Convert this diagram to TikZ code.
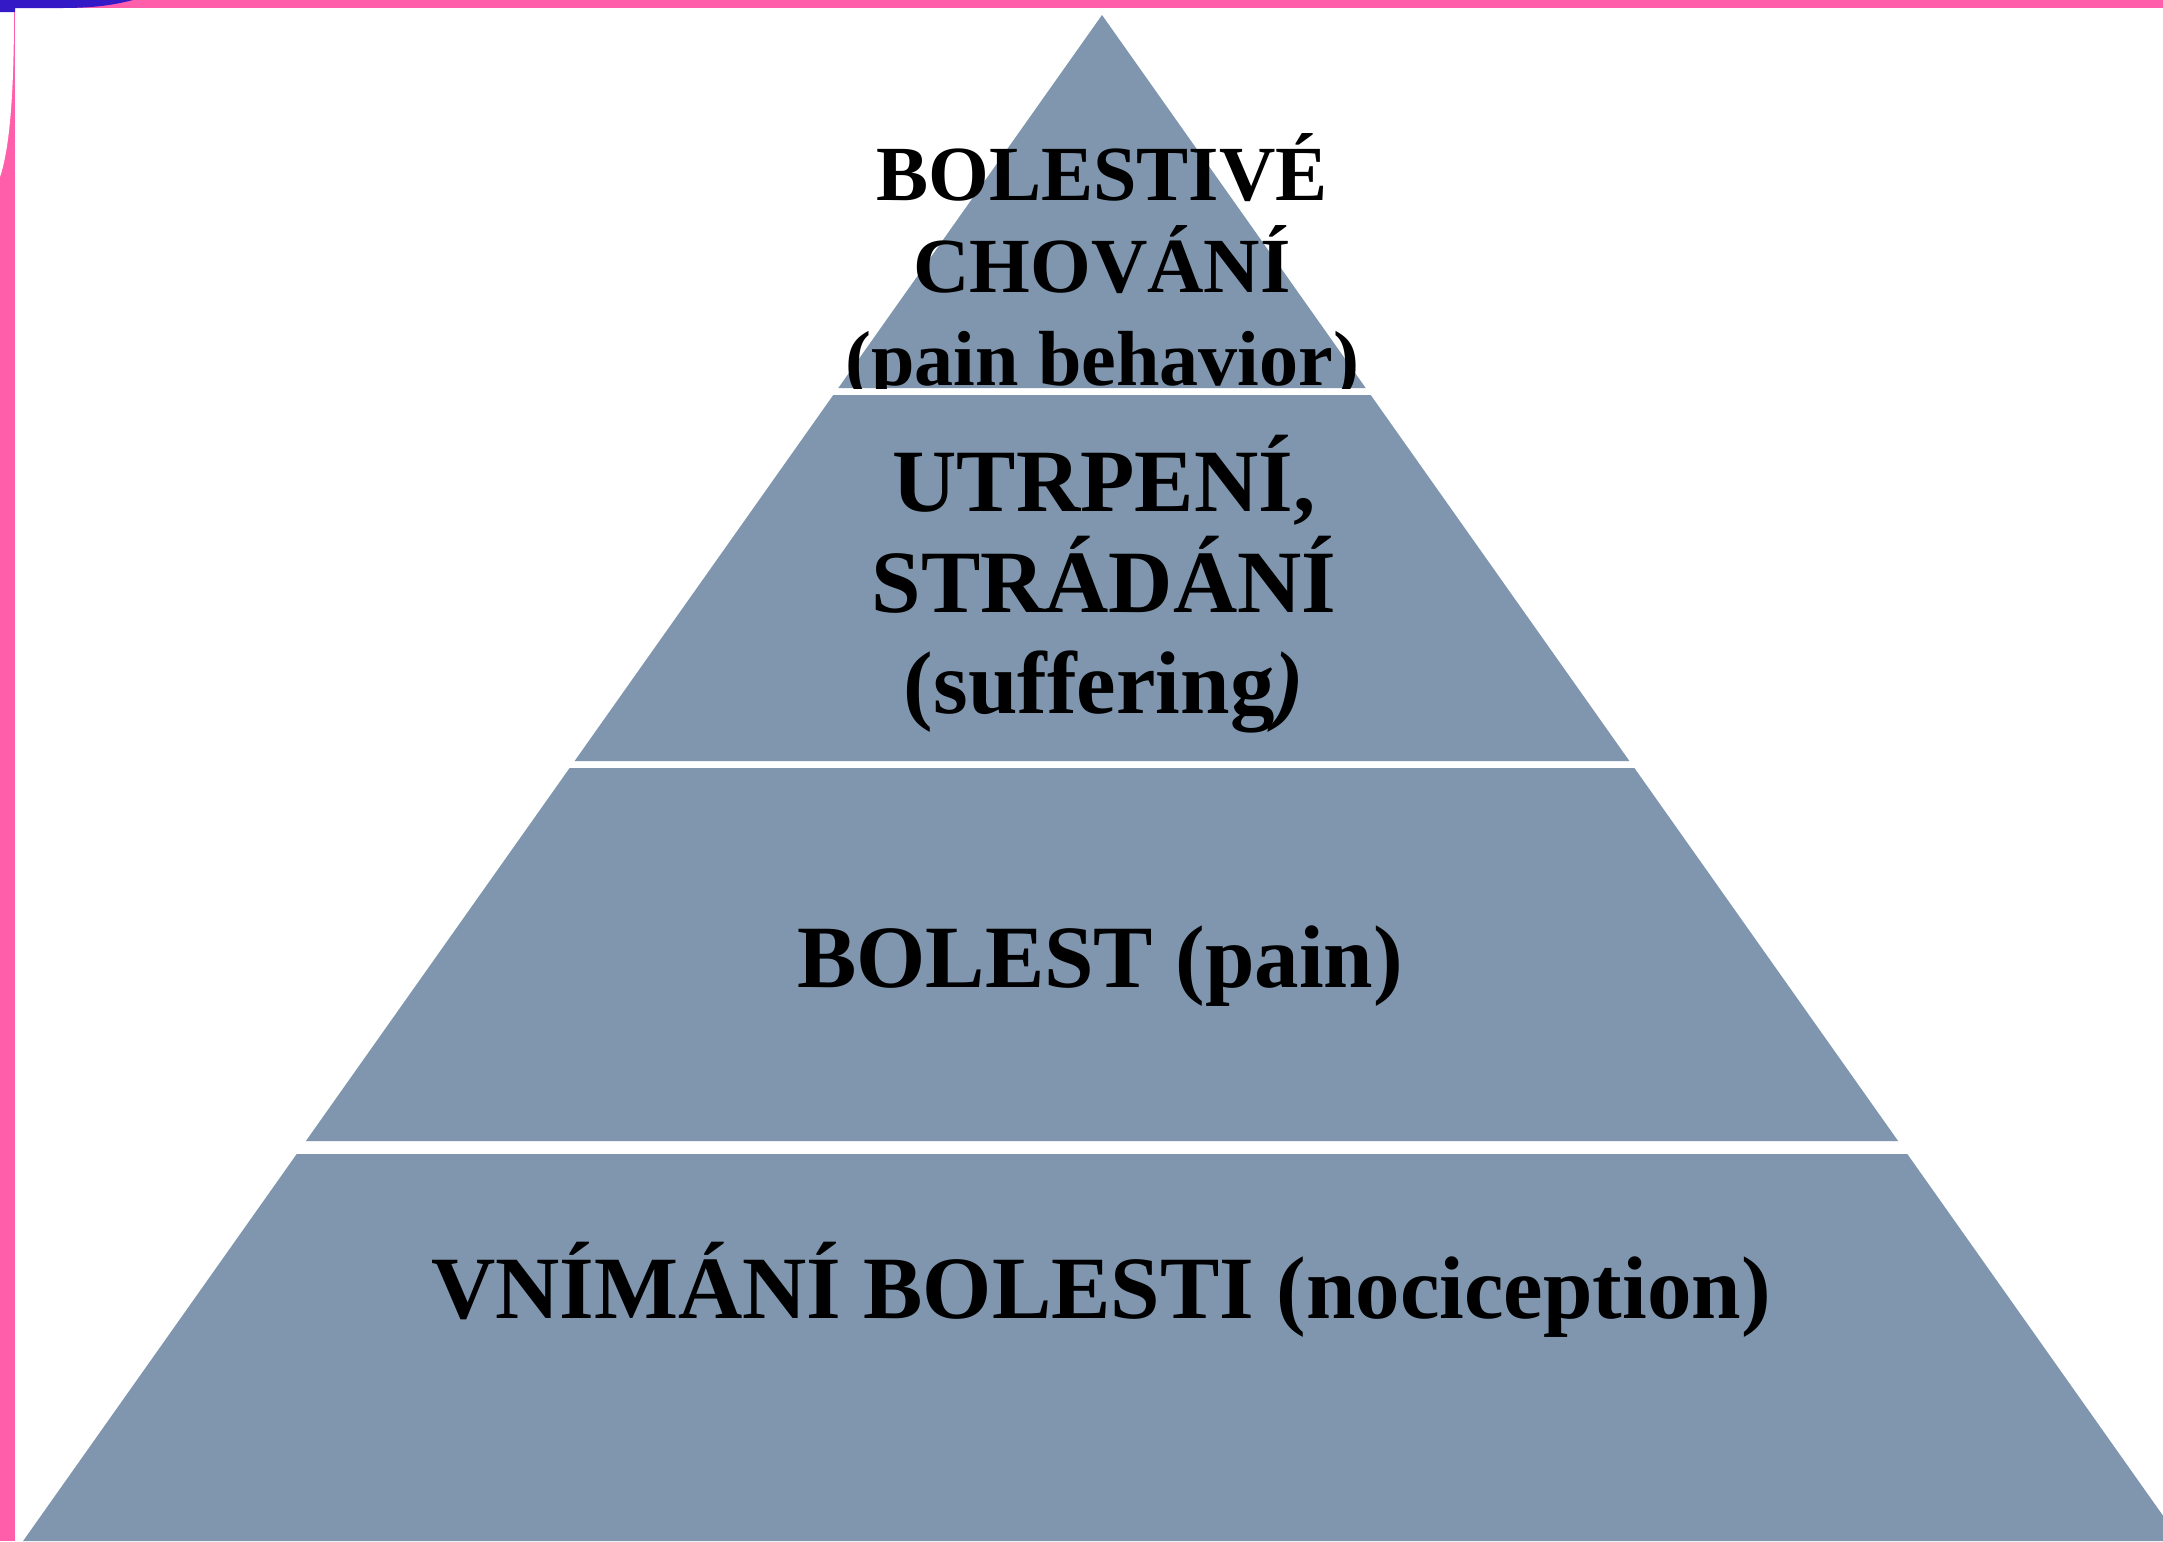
\documentclass[tikz,border=0pt]{standalone}
\usepackage{fontspec}
\setmainfont{Liberation Serif}
\usepackage{xcolor}
\usepackage{tikz}
\usetikzlibrary{positioning}
\definecolor{bandgray}{HTML}{7F96AE}
\definecolor{framepink}{HTML}{FF5FAA}
\definecolor{cornerblue}{HTML}{3419C6}
\tikzset{band/.style={fill=bandgray},
  toplbl/.style={align=center,anchor=base,inner sep=0pt,font=\fontsize{22.2pt}{26.2pt}\selectfont\bfseries},
  lbl/.style={align=center,anchor=base,inner sep=0pt,font=\fontsize{25.3pt}{28.7pt}\selectfont\bfseries}}

\begin{document}
\begin{tikzpicture}[x=0.01cm,y=-0.01cm]
        \useasboundingbox (0,0) rectangle (2163,1541);
        \clip (0,0) rectangle (2163,1541);
        \fill[white] (0,0) rectangle (2163,1541);

        % top of the pyramid
        \fill[band] (1102,15) -- (1365.7,388) -- (838.3,388) -- cycle;
        \begin{scope}
          \clip (0,0) rectangle (2163,388);
          \node[toplbl] (behavior) at (1102,385) {BOLESTIVÉ\\CHOVÁNÍ\\(pain behavior)};
        \end{scope}

        \fill[band] (833.3,395) -- (1370.7,395) -- (1629.4,761) -- (574.6,761) -- cycle;
        \node[lbl] (suffering) at (1104,713) {UTRPENÍ,\\STRÁDÁNÍ\\(suffering\textit{)}};

        \fill[band] (569.6,768) -- (1634.4,768) -- (1898.1,1141) -- (305.9,1141) -- cycle;
        \node[lbl] (pain) at (1100,987) {BOLEST (pain)};

        % base of the pyramid
        \fill[band] (296.7,1154) -- (1907.3,1154) -- (2180.9,1541) -- (23.1,1541) -- cycle;
        \node[lbl] (nociception) at (1101,1318) {VNÍMÁNÍ BOLESTI (nociception)};

        % frame
        \fill[framepink] (0,0) rectangle (2163,8);
        \fill[framepink] (0,0) rectangle (15,1541);
        \fill[white] (0,12) -- (14,12) .. controls (14,100) and (9,150) .. (0,177) -- cycle;
        \fill[cornerblue] (0,0) -- (133,0) .. controls (110,6) and (90,8) .. (60,8) -- (15,8) -- (15,12) -- (0,12) -- cycle;
      \end{tikzpicture}
\end{document}
